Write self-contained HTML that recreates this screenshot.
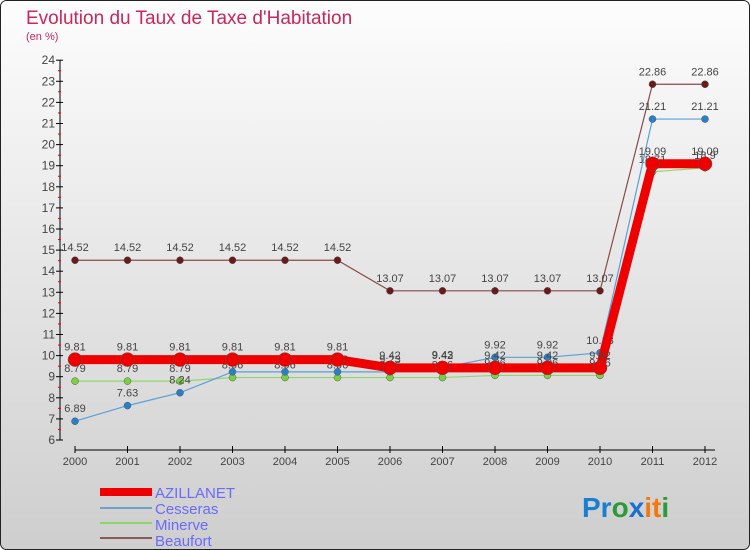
<!DOCTYPE html>
<html><head><meta charset="utf-8"><style>
body{margin:0}
#c{width:750px;height:550px;position:relative;overflow:hidden;font-family:"Liberation Sans",sans-serif}
</style></head><body>
<div id="c">
<svg id="s" width="750" height="550" xmlns="http://www.w3.org/2000/svg">
<defs><linearGradient id="bg" x1="0" y1="0" x2="0" y2="1"><stop offset="0" stop-color="#fdfdfd"/><stop offset="1" stop-color="#cecece"/></linearGradient></defs>
<rect x="0.5" y="0.5" width="749" height="549" rx="6" fill="url(#bg)" stroke="#222"/>
<text x="26" y="24" font-size="19" fill="#c8285a">Evolution du Taux de Taxe d'Habitation</text>
<text x="26" y="40" font-size="11" fill="#c8285a">(en %)</text>
<g id="axes"></g><g id="series"></g>
<g>
<rect x="100" y="488" width="52" height="8" fill="#e00"/>
<text x="155" y="498" font-size="15" fill="#6a6aff">AZILLANET</text>
<line x1="100" y1="508" x2="152" y2="508" stroke="#6fa3cc" stroke-width="2"/>
<text x="155" y="514" font-size="15" fill="#6a6aff">Cesseras</text>
<line x1="100" y1="523" x2="152" y2="523" stroke="#8fd66a" stroke-width="2"/>
<text x="155" y="530" font-size="15" fill="#6a6aff">Minerve</text>
<line x1="100" y1="538" x2="152" y2="538" stroke="#8a5a5a" stroke-width="2"/>
<text x="155" y="546" font-size="15" fill="#6a6aff">Beaufort</text>
</g>
<text x="582" y="517" font-size="28" font-weight="bold"><tspan fill="#1a7fd0">Pr</tspan><tspan fill="#2a9a3a">o</tspan><tspan fill="#1a6fd0">x</tspan><tspan fill="#f07a10">it</tspan><tspan fill="#2a9a3a">i</tspan></text>
</svg></div>
<script>
const years=[2000,2001,2002,2003,2004,2005,2006,2007,2008,2009,2010,2011,2012];
const azillanet=[9.81,9.81,9.81,9.81,9.81,9.81,9.42,9.42,9.42,9.42,9.42,19.09,19.09];
const cesseras=[6.89,7.63,8.24,9.23,9.23,9.23,9.23,9.43,9.92,9.92,10.13,21.21,21.21];
const minerve=[8.79,8.79,8.79,8.96,8.96,8.96,8.96,8.96,9.06,9.06,9.06,18.71,18.9];
const beaufort=[14.52,14.52,14.52,14.52,14.52,14.52,13.07,13.07,13.07,13.07,13.07,22.86,22.86];
const yTicks=[6,7,8,9,10,11,12,13,14,15,16,17,18,19,20,21,22,23,24];
const NS="http://www.w3.org/2000/svg";
const X=i=>75+i*52.5, Y=v=>440-(v-6)*21.1;
function mk(t,a,p){const e=document.createElementNS(NS,t);for(const k in a)e.setAttribute(k,a[k]);p.appendChild(e);return e;}
const ax=document.getElementById('axes');
let l=mk('line',{x1:60,y1:Y(24),x2:60,y2:Y(6),stroke:'#000'},ax);


yTicks.forEach(v=>{
 mk('line',{x1:56,y1:Y(v),x2:63,y2:Y(v),stroke:'#000'},ax);
 if(v<24)mk('line',{x1:58,y1:Y(v+0.5),x2:61,y2:Y(v+0.5),stroke:'#e00'},ax);
 const t=mk('text',{x:55,y:Y(v)+4,'font-size':12,fill:'#444','text-anchor':'end'},ax);t.textContent=v;
 
 
});
l=mk('line',{x1:75,y1:450,x2:715,y2:450,stroke:'#000'},ax);


years.forEach((y,i)=>{
 mk('line',{x1:X(i),y1:446,x2:X(i),y2:453,stroke:'#000'},ax);
 const t=mk('text',{x:X(i),y:465,'font-size':11,fill:'#444','text-anchor':'middle'},ax);t.textContent=y;
 
 
});
const sg=document.getElementById('series');
function draw(name,d,col,w,r,dot){
 const g=mk('g',{},sg);
 
 
 mk('polyline',{points:d.map((v,i)=>X(i)+','+Y(v)).join(' '),fill:'none',stroke:col,'stroke-width':w},g);
 d.forEach((v,i)=>{
  const c=mk('circle',{cx:X(i),cy:Y(v),r:r,fill:dot,stroke:'#555','stroke-width':0.5},g);
  
  
  const t=mk('text',{x:X(i),y:Y(v)-9,'font-size':11,fill:'#444','text-anchor':'middle'},g);t.textContent=v;
  
  
 });
}
draw('beaufort',beaufort,'#8a4a4a',1.2,3.5,'#6a1a1a');
draw('minerve',minerve,'#8fd66a',1.2,3.5,'#7ad040');
draw('cesseras',cesseras,'#5aa0d8',1.2,3.5,'#2a80c8');
draw('azillanet',azillanet,'#e00',9,7,'#e00');
</script>
</body></html>
